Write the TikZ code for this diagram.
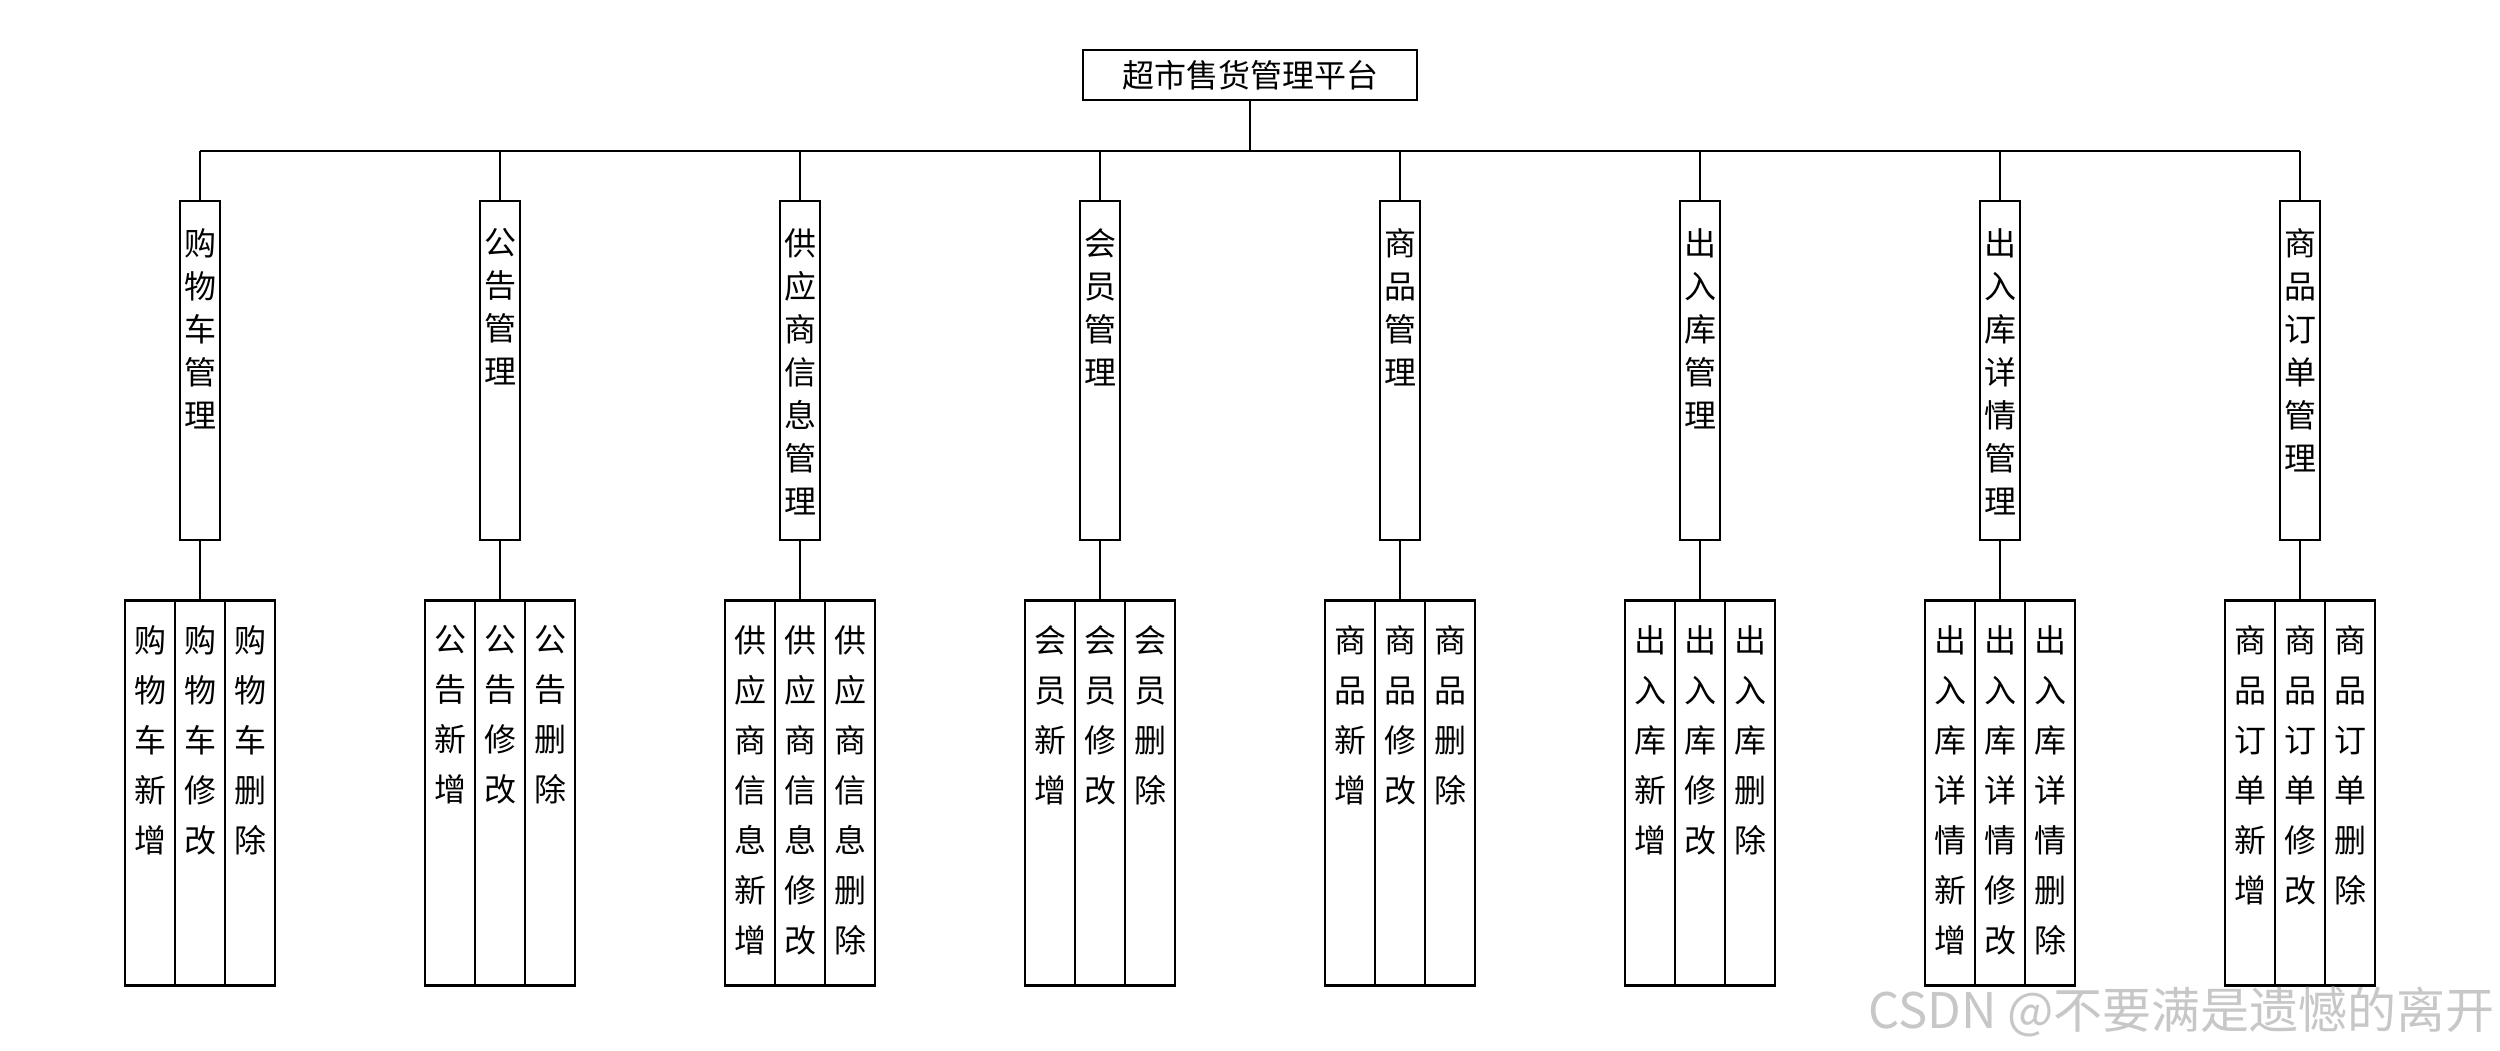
\documentclass[tikz,border=0pt]{standalone}
\usepackage{fontspec}
\setmainfont{Noto Sans CJK SC}
\begin{document}
\begin{tikzpicture}[x=1pt,y=1pt,
  ln/.style={line width=1.6pt},
  busln/.style={line width=2.4pt},
  rootbox/.style={draw,ln,minimum width=334pt,minimum height=50pt,inner sep=0pt,font=\fontsize{32}{38}\selectfont},
  modbox/.style={draw,ln,minimum width=40pt,minimum height=339pt,inner sep=0pt},
  modtext/.style={anchor=north,inner sep=0pt,align=center,font=\fontsize{32}{43}\selectfont},
  subbox/.style={draw,ln,minimum width=50pt,minimum height=384pt,inner sep=0pt},
  subtext/.style={anchor=north,inner sep=0pt,align=center,font=\fontsize{32}{50}\selectfont},
  wmark/.style={anchor=base east,inner sep=0pt,text=black!22,font=\fontsize{49}{52}\selectfont}]
\useasboundingbox (0,0) rectangle (2500,-1050);
\fill[white] (0,0) rectangle (2500,-1050);
\node[rootbox] (root) at (1250,-75) {超市售货管理平台};
\coordinate (busy) at (0,-151);
\foreach \i/\x/\p in {1/200/{购\\物\\车},2/500/{公\\告},3/800/{供\\应\\商\\信\\息},4/1100/{会\\员},5/1400/{商\\品},6/1700/{出\\入\\库},7/2000/{出\\入\\库\\详\\情},8/2300/{商\\品\\订\\单}}{
  \node[modbox] (m\i) at (\x,-370.5) {};
  \node[modtext] (m\i-t) at ([yshift=-28pt]m\i.north) {\p\\管\\理};
  \node[subbox] (s\i-a) at (\x-50,-793) {};
  \node[subbox] (s\i-b) at (\x,-793) {};
  \node[subbox] (s\i-c) at (\x+50,-793) {};
  \node[subtext] (s\i-at) at ([yshift=-25pt]s\i-a.north) {\p\\新\\增};
  \node[subtext] (s\i-bt) at ([yshift=-25pt]s\i-b.north) {\p\\修\\改};
  \node[subtext] (s\i-ct) at ([yshift=-25pt]s\i-c.north) {\p\\删\\除};
  \draw[busln] (s\i-a.north west) -- (s\i-c.north east);
  \draw[busln] (s\i-a.south west) -- (s\i-c.south east);
  \draw[ln] (m\i.north) -- (m\i.north |- busy);
  \draw[ln] (m\i.south) -- (s\i-b.north);
}
\draw[busln] (m1.north |- busy) -- (m8.north |- busy);
\draw[ln] (root.south) -- (root.south |- busy);
\node[wmark] (wm) at (2495,-1028) {CSDN @不要满是遗憾的离开};
\end{tikzpicture}
\end{document}
